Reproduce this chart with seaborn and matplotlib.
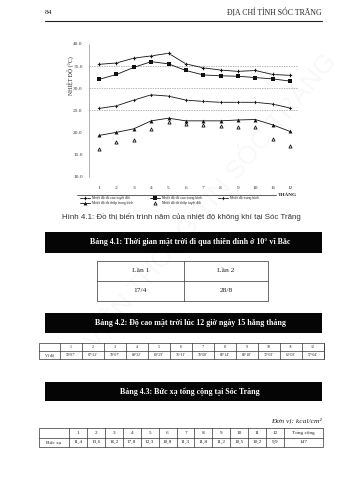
import matplotlib
matplotlib.use("Agg")
import matplotlib.pyplot as plt
import numpy as np
import pandas as pd
import seaborn as sns
from matplotlib.patches import Rectangle
from matplotlib.lines import Line2D

# ---------------- data ----------------
months = list(range(1, 13))
abs_max = [35.4, 35.7, 36.8, 37.3, 37.9, 35.5, 34.6, 34.1, 33.8, 34.0, 33.1, 32.9]
mean_max = [32.0, 33.1, 34.7, 36.0, 35.5, 34.0, 33.0, 32.8, 32.7, 32.4, 32.1, 31.6]
mean_t = [25.4, 26.0, 27.3, 28.5, 28.2, 27.3, 27.0, 26.8, 26.8, 26.8, 26.4, 25.5]
mean_min = [19.3, 20.0, 20.8, 22.6, 23.2, 22.6, 22.6, 22.6, 22.8, 22.9, 21.7, 20.2]
abs_min = [16.2, 17.9, 18.3, 20.8, 22.4, 21.8, 21.7, 21.4, 21.2, 21.3, 18.4, 16.8]
y_ticks = [10, 15, 20, 25, 30, 35, 40]
grid_levels = [10, 25, 30, 35]

name_abs_max = "Nhiệt độ tối cao tuyệt đối"
name_mean_max = "Nhiệt độ tối cao trung bình"
name_mean = "Nhiệt độ trung bình"
name_mean_min = "Nhiệt độ tối thấp trung bình"
name_abs_min = "Nhiệt độ tối thấp tuyệt đối"

t41_head = ["Lần 1", "Lần 2"]
t41_vals = ["17/4", "28/8"]
t42_label = "Vĩ độ"
t42_vals = ["59°07'", "67°22'", "78°07'", "89°32'", "80°29'", "76°11'",
            "78°08'", "83°14'", "83°18'", "72°03'", "62°03'", "57°04'"]
t43_label = "Bức xạ"
t43_vals = ["11,4", "13,6", "16,2", "17,8", "12,3", "10,8",
            "11,3", "11,8", "11,2", "10,5", "10,2", "9,9"]
t43_total_head = "Tổng cộng"
t43_total = "147"

# ---------------- style ----------------
sns.set_theme(style="white")
plt.rcParams["font.family"] = ["Liberation Serif", "DejaVu Serif"]

W, H = 364, 480
fig = plt.figure(figsize=(W / 100, H / 100), dpi=100)
fig.patch.set_facecolor("white")

# overlay axes in pixel coordinates (page elements)
ov = fig.add_axes([0, 0, 1, 1], zorder=0)
ov.set_xlim(0, W)
ov.set_ylim(H, 0)
ov.axis("off")
ov.patch.set_alpha(0)

SERIF = ["Liberation Serif", "DejaVu Serif"]
SANS = ["Liberation Sans", "DejaVu Sans"]

# header
ov.text(45, 13, "84", fontsize=5.4, family=SERIF, ha="left", va="center", color="#222")
ov.text(322, 13, "ĐỊA CHÍ TỈNH SÓC TRĂNG", fontsize=5.6, family=SERIF,
        ha="right", va="center", color="#222")
ov.plot([45, 322], [21, 21], color="#222", lw=0.8)

# watermark
ov.text(210, 200, "VIỆN THÔNG TIN SÓC TRĂNG", fontsize=19, family=SANS,
        rotation=50, ha="center", va="center", color="#000", alpha=0.03)

# ---------------- chart ----------------
x0, x1, ytop, ybot = 89, 298, 44, 176.5
ax = fig.add_axes([x0 / W, 1 - ybot / H, (x1 - x0) / W, (ybot - ytop) / H], zorder=2)
ax.patch.set_alpha(0)

k = "#111"
sns.lineplot(x=months, y=abs_max, ax=ax, color=k, lw=0.6, marker="P",
             markersize=2.6, markeredgewidth=0.2, label=name_abs_max)
sns.lineplot(x=months, y=mean_max, ax=ax, color=k, lw=0.6, marker="s",
             markersize=3.2, markeredgewidth=0, label=name_mean_max)
sns.lineplot(x=months, y=mean_t, ax=ax, color=k, lw=0.6, marker="P",
             markersize=2.4, markeredgewidth=0.2, label=name_mean)
sns.lineplot(x=months, y=mean_min, ax=ax, color=k, lw=0.6, marker="^",
             markersize=2.8, markeredgewidth=0, label=name_mean_min)
sns.scatterplot(x=months, y=abs_min, ax=ax, marker="^", s=5, facecolor="white",
                edgecolor=k, linewidth=0.6, label=name_abs_min)

ax.set_xlim(0.42, 12.46)
ax.set_ylim(10, 40)
ax.set_yticks(y_ticks)
ax.set_yticklabels([f"{v:.1f}" for v in y_ticks])
ax.set_xticks(months)
ax.set_xticklabels([str(m) for m in months])
ax.tick_params(axis="y", labelsize=3.9, length=1.5, width=0.4, pad=3, colors="#333")
ax.tick_params(axis="x", labelsize=3.9, length=0, pad=7, colors="#333")
for s in ["top", "right", "bottom"]:
    ax.spines[s].set_visible(False)
ax.spines["left"].set_linestyle((0, (1, 1)))
ax.spines["left"].set_linewidth(0.4)
ax.spines["left"].set_color("#777")
for g in grid_levels:
    ax.axhline(g, color="#999", lw=0.5, ls=(0, (2, 1.5)), zorder=0)
ax.set_xlabel("")
ax.set_ylabel("")

handles, labels = ax.get_legend_handles_labels()
order = [name_abs_max, name_mean_min, name_mean_max, name_abs_min, name_mean]
hmap = dict(zip(labels, handles))
ax.legend([hmap[n] for n in order], order, ncol=3, loc="upper left",
          bbox_to_anchor=(-0.05, -0.14), frameon=False,
          handlelength=3, columnspacing=5, labelspacing=0.15, handletextpad=0.6,
          borderaxespad=0, prop={"family": SANS, "size": 2.4})

fig.text(71 / W, 1 - 76 / H, "NHIỆT ĐỘ (°C)", rotation=90, fontsize=4.2,
         family=SERIF, ha="center", va="center", color="#222")
ov.plot([77, 276], [195, 195], color="#444", lw=0.6)
ov.text(297, 195, "THÁNG", fontsize=3.8, family=SERIF, weight="bold",
        ha="right", va="center", color="#222")

# caption
ov.text(181, 217, "Hình 4.1: Đồ thị biến trình năm của nhiệt độ không khí tại Sóc Trăng",
        fontsize=5.7, family=SANS, ha="center", va="center", color="#333")


def banner(y0, y1, text):
    ov.add_patch(Rectangle((45, y0), 322 - 45, y1 - y0, facecolor="#050505",
                           edgecolor="none"))
    ov.text(190, (y0 + y1) / 2, text, fontsize=5.7, family=SERIF, weight="bold",
            color="white", ha="center", va="center")


banner(232, 253, "Bảng 4.1: Thời gian mặt trời đi qua thiên đỉnh ở 10° vĩ Bắc")
banner(313, 333, "Bảng 4.2: Độ cao mặt trời lúc 12 giờ ngày 15 hằng tháng")
banner(382, 401, "Bảng 4.3: Bức xạ tổng cộng tại Sóc Trăng")

LW = 0.5
TC = "#333"

# table 4.1
tx0, tx1, tm = 97, 268, 184
ty0, ty1, ty2 = 261, 281, 301
ov.add_patch(Rectangle((tx0, ty0), tx1 - tx0, ty2 - ty0, fill=False, edgecolor=TC, lw=LW))
ov.plot([tx0, tx1], [ty1, ty1], color=TC, lw=LW)
ov.plot([tm, tm], [ty0, ty2], color=TC, lw=LW)
for i, (h, v) in enumerate(zip(t41_head, t41_vals)):
    cx = (tx0 + tm) / 2 if i == 0 else (tm + tx1) / 2
    ov.text(cx, (ty0 + ty1) / 2, h, fontsize=5.4, family=SERIF, ha="center", va="center", color="#222")
    ov.text(cx, (ty1 + ty2) / 2, v, fontsize=5.4, family=SERIF, ha="center", va="center", color="#222")

# table 4.2
ax0, axl, ax1 = 39, 60, 324
ry0, ry1, ry2 = 343, 351, 359
cw = (ax1 - axl) / 12
ov.add_patch(Rectangle((ax0, ry0), ax1 - ax0, ry2 - ry0, fill=False, edgecolor=TC, lw=LW))
ov.plot([ax0, ax1], [ry1, ry1], color=TC, lw=LW)
ov.plot([axl, axl], [ry0, ry2], color=TC, lw=LW)
ov.text((ax0 + axl) / 2, (ry1 + ry2) / 2, t42_label, fontsize=3.0, family=SERIF,
        ha="center", va="center", color="#222")
for i, v in enumerate(t42_vals):
    cx0 = axl + i * cw
    ov.plot([cx0 + cw, cx0 + cw], [ry0, ry2], color=TC, lw=LW)
    ov.text(cx0 + cw / 2, (ry0 + ry1) / 2, str(months[i]), fontsize=3.0, family=SERIF,
            ha="center", va="center", color="#222")
    ov.text(cx0 + cw / 2, (ry1 + ry2) / 2, v, fontsize=2.8, family=SERIF,
            ha="center", va="center", color="#222")

# unit
ov.text(322, 420, "Đơn vị: kcal/cm²", fontsize=5.4, family=SERIF, style="italic",
        ha="right", va="center", color="#222")

# table 4.3
bx0, bxl, bxt, bx1 = 39, 69, 284, 323
by0, by1, by2 = 428, 437.5, 447
cw3 = (bxt - bxl) / 12
ov.add_patch(Rectangle((bx0, by0), bx1 - bx0, by2 - by0, fill=False, edgecolor=TC, lw=LW))
ov.plot([bx0, bx1], [by1, by1], color=TC, lw=LW)
ov.plot([bxl, bxl], [by0, by2], color=TC, lw=LW)
ov.text((bx0 + bxl) / 2, (by1 + by2) / 2, t43_label, fontsize=3.8, family=SERIF,
        ha="center", va="center", color="#222")
for i, v in enumerate(t43_vals):
    cx0 = bxl + i * cw3
    ov.plot([cx0 + cw3, cx0 + cw3], [by0, by2], color=TC, lw=LW)
    ov.text(cx0 + cw3 / 2, (by0 + by1) / 2, str(months[i]), fontsize=3.8, family=SERIF,
            ha="center", va="center", color="#222")
    ov.text(cx0 + cw3 / 2, (by1 + by2) / 2, v, fontsize=3.8, family=SERIF,
            ha="center", va="center", color="#222")
ov.text((bxt + bx1) / 2, (by0 + by1) / 2, t43_total_head, fontsize=3.8, family=SERIF,
        ha="center", va="center", color="#222")
ov.text((bxt + bx1) / 2, (by1 + by2) / 2, t43_total, fontsize=3.8, family=SERIF,
        ha="center", va="center", color="#222")

fig.savefig("out.png", dpi=100, facecolor="white")
